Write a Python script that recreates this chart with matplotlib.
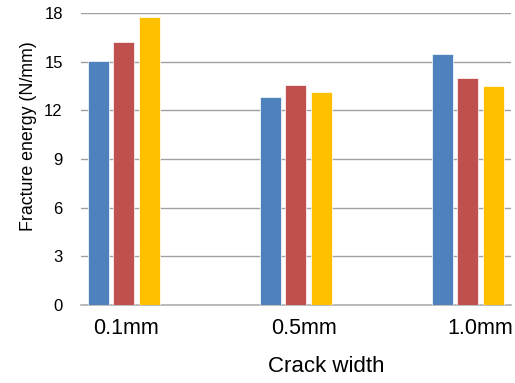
import numpy as np
import matplotlib.pyplot as plt

plt.rcParams['font.family'] = ['Liberation Sans', 'DejaVu Sans']

# Data
crack_widths = ['0.1mm', '0.5mm', '1.0mm']
series_a = [15.05, 12.8, 15.45]
series_b = [16.2, 13.55, 14.0]
series_c = [17.75, 13.1, 13.5]
colors = ['#4F81BD', '#C0504D', '#FFC000']

fig = plt.figure(figsize=(5.15, 3.83), dpi=100)
ax = fig.add_axes([0.157, 0.204, 0.835, 0.762])

x = np.arange(len(crack_widths))
step = 0.148
width = 0.122
for i, (vals, c) in enumerate(zip([series_a, series_b, series_c], colors)):
    ax.bar(x + (i - 1) * step, vals, width, color=c, edgecolor='white',
           linewidth=0.5, zorder=3)

ax.set_xlim(-0.25, 2.25)
ax.set_ylim(0, 18)
ax.set_yticks(np.arange(0, 19, 3))
ax.set_xticks(x + np.array([0.01, 0.05, 0.07]))
ax.set_xticklabels(crack_widths)
ax.tick_params(axis='both', length=0, colors='black')
ax.tick_params(axis='x', pad=9.5, labelsize=15.5)
ax.tick_params(axis='y', pad=13, labelsize=12)

ax.grid(axis='y', color='#A0A0A0', linewidth=1, zorder=0)
for s in ['top', 'right', 'left']:
    ax.spines[s].set_visible(False)
ax.spines['bottom'].set_color('#B0B0B0')
ax.spines['bottom'].set_linewidth(1.2)

ax.set_ylabel('Fracture energy (N/mm)', fontsize=12.8)
ax.yaxis.set_label_coords(-0.102, 0.577)
ax.set_xlabel('Crack width', fontsize=16)
ax.xaxis.set_label_coords(0.571, -0.175)

fig.savefig('out.png', dpi=100)
